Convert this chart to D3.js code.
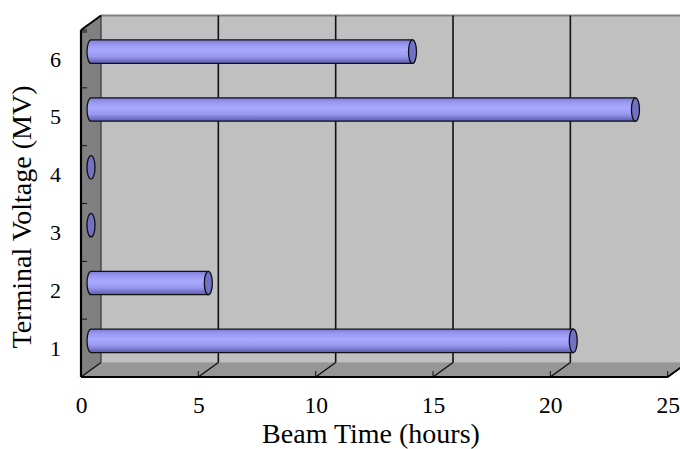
<!DOCTYPE html>
<html>
<head>
<meta charset="utf-8">
<script src="https://cdn.jsdelivr.net/npm/d3@7"></script>
<style>
  html, body { margin: 0; padding: 0; background: #fff; }
  svg { display: block; }
</style>
</head>
<body>
<svg id="chart" width="680" height="449"></svg>
<script>
// Terminal voltage categories and the beam time spent at each
const categories = ["1", "2", "3", "4", "5", "6"];
const beamTime = [20.55, 5.0, 0, 0, 23.2, 13.7];
const xTickValues = [0, 5, 10, 15, 20, 25];
const xTitle = "Beam Time (hours)";
const yTitle = "Terminal Voltage (MV)";

const svg = d3.select("#chart");

// plot box on the front plane, and the depth offset of the 3D box
const front = { left: 81, right: 667.7, top: 30, bottom: 377 };
const depth = { dx: 20, dy: -14.5 };

const x = d3.scaleLinear().domain([0, 25]).range([front.left, front.right]);
const y = d3.scaleBand().domain(categories).range([front.bottom, front.top]).padding(0);

const defs = svg.append("defs");
defs.append("clipPath").attr("id", "view")
  .append("rect").attr("x", 0).attr("y", 0).attr("width", 680).attr("height", 449);

// cylinder shading
const grad = defs.append("linearGradient")
  .attr("id", "cyl").attr("x1", 0).attr("y1", 0).attr("x2", 0).attr("y2", 1);
[["0%", "#7c7cd6"], ["18%", "#9797f0"], ["42%", "#a9a9ff"], ["70%", "#9898ee"], ["100%", "#5a5ab2"]]
  .forEach(([o, c]) => grad.append("stop").attr("offset", o).attr("stop-color", c));

const g = svg.append("g").attr("clip-path", "url(#view)");

const bx0 = front.left + depth.dx, by0 = front.top + depth.dy;
const bx1 = front.right + depth.dx, by1 = front.bottom + depth.dy;

// back wall
g.append("rect").attr("x", bx0).attr("y", by0).attr("width", bx1 - bx0).attr("height", by1 - by0)
  .attr("fill", "#c0c0c0");
g.append("line").attr("x1", bx0).attr("x2", bx1).attr("y1", by0).attr("y2", by0)
  .attr("stroke", "#808080").attr("stroke-width", 2);

// floor
g.append("path")
  .attr("d", `M${front.left},${front.bottom}L${front.right},${front.bottom}L${bx1},${by1}L${bx0},${by1}Z`)
  .attr("fill", "#969696");
g.append("line").attr("x1", bx0).attr("x2", bx1).attr("y1", by1).attr("y2", by1)
  .attr("stroke", "#a6a6a6").attr("stroke-width", 1);

// left wall
g.append("path")
  .attr("d", `M${front.left},${front.top}L${bx0},${by0}L${bx0},${by1}L${front.left},${front.bottom}Z`)
  .attr("fill", "#808080");

// value gridlines on back wall and floor
xTickValues.forEach(v => {
  const px = x(v);
  if (v > 0) {
    g.append("line").attr("x1", px + depth.dx).attr("x2", px + depth.dx)
      .attr("y1", by0).attr("y2", by1).attr("stroke", "#111").attr("stroke-width", 1.6);
  }
  g.append("line").attr("x1", px).attr("y1", front.bottom)
    .attr("x2", px + depth.dx).attr("y2", by1).attr("stroke", "#111").attr("stroke-width", 1.4);
  g.append("line").attr("x1", px).attr("x2", px)
    .attr("y1", front.bottom).attr("y2", front.bottom - 6).attr("stroke", "#111").attr("stroke-width", 1);
});

// edges of the box
g.append("line").attr("x1", bx0).attr("x2", bx0).attr("y1", by0).attr("y2", by1)
  .attr("stroke", "#333").attr("stroke-width", 1.2);
g.append("line").attr("x1", front.left).attr("y1", front.top).attr("x2", bx0).attr("y2", by0)
  .attr("stroke", "#000").attr("stroke-width", 2);
g.append("line").attr("x1", front.left).attr("x2", front.left)
  .attr("y1", front.top).attr("y2", front.bottom).attr("stroke", "#000").attr("stroke-width", 2.2);
g.append("line").attr("x1", front.left).attr("x2", front.right)
  .attr("y1", front.bottom).attr("y2", front.bottom).attr("stroke", "#000").attr("stroke-width", 2);

// category tick marks on the left wall
categories.forEach(c => {
  const py = y(c);
  g.append("line").attr("x1", front.left).attr("x2", front.left + 6)
    .attr("y1", py).attr("y2", py).attr("stroke", "#111").attr("stroke-width", 1);
});
g.append("line").attr("x1", front.left).attr("x2", front.left + 6)
  .attr("y1", front.top + 2).attr("y2", front.top + 2).attr("stroke", "#111").attr("stroke-width", 1);

// cylinders
const rx = 4, ry = 11.7;
const bars = g.append("g");
categories.forEach((c, i) => {
  const v = beamTime[i];
  const cy = y(c) + y.bandwidth() / 2 + depth.dy / 2;
  const xs = x(0) + depth.dx / 2;
  const xe = x(v) + depth.dx / 2;
  if (xe - xs > 0.5) {
    bars.append("path")
      .attr("d", `M${xs},${cy - ry}L${xe},${cy - ry}L${xe},${cy + ry}L${xs},${cy + ry}` +
        `A${rx},${ry} 0 0 1 ${xs},${cy - ry}Z`)
      .attr("fill", "url(#cyl)").attr("stroke", "#111").attr("stroke-width", 1.3);
  }
  bars.append("ellipse").attr("cx", xe).attr("cy", cy).attr("rx", rx).attr("ry", ry)
    .attr("fill", "#7272c4").attr("stroke", "#111").attr("stroke-width", 1.3);
});

// right edge of the floor
g.append("line").attr("x1", front.right).attr("y1", front.bottom)
  .attr("x2", bx1).attr("y2", by1).attr("stroke", "#000").attr("stroke-width", 1.6);

// axis labels
const serif = "'Liberation Serif', 'Times New Roman', serif";

const xAxis = svg.append("g").attr("transform", `translate(0,${front.bottom})`)
  .call(d3.axisBottom(x).tickValues(xTickValues).tickSize(0).tickFormat(d3.format("d")));
xAxis.select(".domain").remove();
xAxis.selectAll("text").attr("y", 36).attr("dy", 0)
  .style("font-family", serif).style("font-size", "23.5px").attr("fill", "#000");

const yAxis = svg.append("g").attr("transform", `translate(${front.left},0)`)
  .call(d3.axisLeft(y).tickSize(0).tickPadding(20));
yAxis.select(".domain").remove();
yAxis.selectAll("text").attr("dy", "0.35em")
  .style("font-family", serif).style("font-size", "22px").attr("fill", "#000");

svg.append("text").attr("x", 371).attr("y", 443).attr("text-anchor", "middle")
  .style("font-family", serif).style("font-size", "28px").attr("fill", "#000").text(xTitle);

svg.append("text").attr("transform", "translate(31,217) rotate(-90)").attr("text-anchor", "middle")
  .style("font-family", serif).style("font-size", "28px").attr("fill", "#000").text(yTitle);
</script>
</body>
</html>
